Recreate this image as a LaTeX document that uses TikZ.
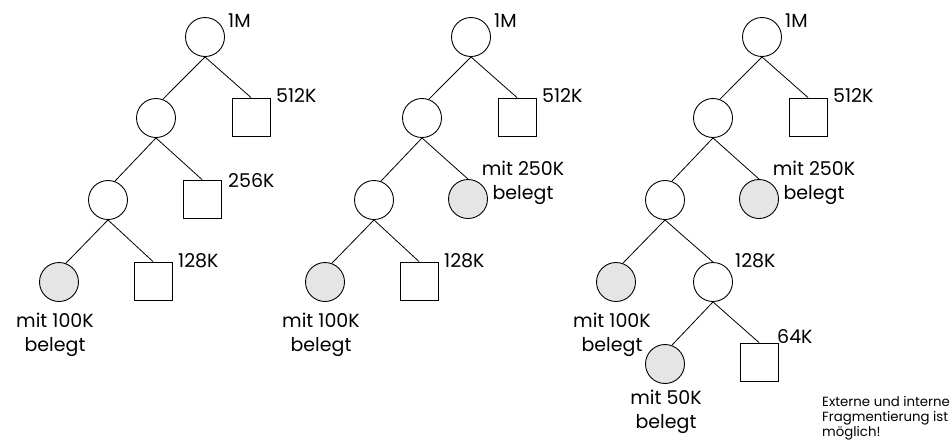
\documentclass[tikz,border=0pt]{standalone}
\usepackage{fontspec}
\setmainfont{Poppins}
\usepackage{tikz}
\usetikzlibrary{positioning}

\begin{document}
\begin{tikzpicture}[x=1pt, y=-1pt,
  blk/.style={circle, draw, line width=0.9pt, minimum size=39pt, inner sep=0pt},
  used/.style={blk, fill=gray!20},
  frei/.style={rectangle, draw, line width=0.9pt, minimum size=38pt, inner sep=0pt},
  lbl/.style={inner sep=0pt, font=\fontsize{19}{24}\selectfont},
  edge/.style={line width=0.8pt}
]
  \useasboundingbox (0,0) rectangle (952,440);

  % linker Baum
  \begin{scope}
    \node[blk]  (Aroot) at (205,37)  {};
    \node[blk]  (Al1)   at (156,118) {};
    \node[frei] (A512)  at (251,117) {};
    \node[blk]  (Al2)   at (108,200) {};
    \node[frei] (A256)  at (202,199) {};
    \node[used] (Au100) at (59,282)  {};
    \node[frei] (A128)  at (153,281) {};
    \foreach \p/\c/\w in {Aroot/Al1/70, Aroot/A512/90, Al1/Al2/70, Al1/A256/90, Al2/Au100/70, Al2/A128/90}
      \draw[edge] (\p.south) -- (\c.\w);
    \node[lbl, anchor=base west] at (228,27)  {1M};
    \node[lbl, anchor=base west] at (276,102) {512K};
    \node[lbl, anchor=base west] at (228,187) {256K};
    \node[lbl, anchor=base west] at (178,267) {128K};
    \node[lbl, anchor=north, align=center] at (55,313) {mit 100K\\belegt};
  \end{scope}

  % mittlerer Baum
  \begin{scope}[shift={(266,0)}]
    \node[blk]  (Broot) at (205,37)  {};
    \node[blk]  (Bl1)   at (156,118) {};
    \node[frei] (B512)  at (251,117) {};
    \node[blk]  (Bl2)   at (108,200) {};
    \node[used] (Bu250) at (202,199) {};
    \node[used] (Bu100) at (59,282)  {};
    \node[frei] (B128)  at (153,281) {};
    \foreach \p/\c/\w in {Broot/Bl1/70, Broot/B512/90, Bl1/Bl2/70, Bl1/Bu250/90, Bl2/Bu100/70, Bl2/B128/90}
      \draw[edge] (\p.south) -- (\c.\w);
    \node[lbl, anchor=base west] at (228,27)  {1M};
    \node[lbl, anchor=base west] at (276,102) {512K};
    \node[lbl, anchor=north, align=center] at (257,161) {mit 250K\\belegt};
    \node[lbl, anchor=base west] at (178,267) {128K};
    \node[lbl, anchor=north, align=center] at (55,313) {mit 100K\\belegt};
  \end{scope}

  % rechter Baum
  \begin{scope}[shift={(557,0)}]
    \node[blk]  (Croot) at (205,37)  {};
    \node[blk]  (Cl1)   at (156,118) {};
    \node[frei] (C512)  at (251,117) {};
    \node[blk]  (Cl2)   at (108,200) {};
    \node[used] (Cu250) at (202,199) {};
    \node[used] (Cu100) at (59,282)  {};
    \node[blk]  (Cl3)   at (156,282) {};
    \node[used] (Cu50)  at (108,364) {};
    \node[frei] (C64)   at (202,362) {};
    \foreach \p/\c/\w in {Croot/Cl1/70, Croot/C512/90, Cl1/Cl2/70, Cl1/Cu250/90, Cl2/Cu100/70, Cl2/Cl3/90, Cl3/Cu50/70, Cl3/C64/90}
      \draw[edge] (\p.south) -- (\c.\w);
    \node[lbl, anchor=base west] at (228,27)  {1M};
    \node[lbl, anchor=base west] at (276,102) {512K};
    \node[lbl, anchor=north, align=center] at (257,161) {mit 250K\\belegt};
    \node[lbl, anchor=base west] at (178,267) {128K};
    \node[lbl, anchor=north, align=center] at (55,313) {mit 100K\\belegt};
    \node[lbl, anchor=base west] at (220,343) {64K};
    \node[lbl, anchor=north, align=center] at (109,390) {mit 50K\\belegt};
  \end{scope}

  \node[inner sep=0pt, anchor=north west, align=left, font=\fontsize{13.3}{15}\selectfont]
    (hinweis) at (822,396) {Externe und interne\\Fragmentierung ist\\möglich!};
\end{tikzpicture}
\end{document}
